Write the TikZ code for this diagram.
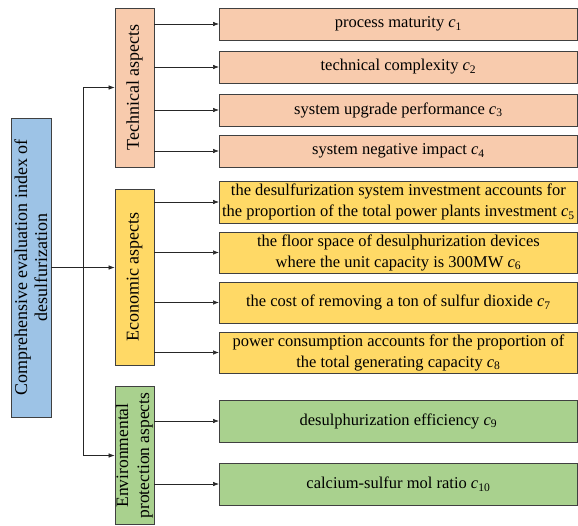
\documentclass[tikz,border=0pt]{standalone}
\usepackage{fontspec}
\setmainfont{Liberation Serif}
\usetikzlibrary{arrows.meta}
\definecolor{peach}{HTML}{F8CBAD}
\definecolor{gold}{HTML}{FFD966}
\definecolor{leaf}{HTML}{A9D18E}
\definecolor{sky}{HTML}{9DC3E6}
\newcommand\csub[1]{\textit{c}\textsubscript{#1}}
\begin{document}
\begin{tikzpicture}[x=1pt,y=-1pt,
  box/.style={draw=black!75,line width=0.8pt,inner sep=1pt,align=center,
    font=\fontsize{16.5}{21}\selectfont},
  rbox/.style={box,rotate=90,font=\fontsize{18}{20}\selectfont},
  item/.style={box,minimum width=358pt,anchor=west},
  arr/.style={-{Latex[length=6pt,width=4.5pt]},line width=0.6pt,black!85}]
\useasboundingbox (0,0) rectangle (578,525);
% main
\node[rbox,fill=sky,minimum width=299pt,minimum height=40pt] (main) at (31,267.5)
  {Comprehensive evaluation index of\\desulfurization};
% aspects
\node[rbox,fill=peach,minimum width=159pt,minimum height=39pt] (tech) at (134.5,87.5) {Technical aspects};
\node[rbox,fill=gold,minimum width=176pt,minimum height=39pt] (econ) at (134.5,277) {Economic aspects};
\node[rbox,fill=leaf,minimum width=138pt,minimum height=39pt,font=\fontsize{17.5}{21}\selectfont] (env) at (134.5,455.5) {Environmental\\protection aspects};
% items
\node[item,fill=peach,minimum height=32pt] (c1) at (219,24) {process maturity \csub{1}};
\node[item,fill=peach,minimum height=32pt] (c2) at (219,67) {technical complexity \csub{2}};
\node[item,fill=peach,minimum height=32pt] (c3) at (219,110) {system upgrade performance \csub{3}};
\node[item,fill=peach,minimum height=32pt] (c4) at (219,151) {system negative impact \csub{4}};
\node[item,fill=gold,minimum height=42pt] (c5) at (219,202) {the desulfurization system investment accounts for\\the proportion of the total power plants investment \csub{5}};
\node[item,fill=gold,minimum height=41pt] (c6) at (219,252.5) {the floor space of desulphurization devices\\where the unit capacity is 300MW \csub{6}};
\node[item,fill=gold,minimum height=41pt] (c7) at (219,302.5) {the cost of removing a ton of sulfur dioxide \csub{7}};
\node[item,fill=gold,minimum height=41pt] (c8) at (219,352.5) {power consumption accounts for the proportion of\\the total generating capacity \csub{8}};
\node[item,fill=leaf,minimum height=42pt] (c9) at (219,421) {desulphurization efficiency \csub{9}};
\node[item,fill=leaf,minimum height=42pt] (c10) at (219,484) {calcium-sulfur mol ratio \csub{10}};
% trunk
\coordinate (j) at (83,267.5);
\draw[line width=0.6pt,black!85] (j |- tech.north) -- (j |- env.north);
\draw[arr] (main.south) -- (main.south -| econ.north);
\draw[arr] (j |- tech.north) -- (tech.north);
\draw[arr] (j |- env.north) -- (env.north);
% branches
\foreach \i in {c1,c2,c3,c4} \draw[arr] (\i.west -| tech.south) -- (\i.west);
\foreach \i in {c5,c6,c7,c8} \draw[arr] (\i.west -| econ.south) -- (\i.west);
\foreach \i in {c9,c10} \draw[arr] (\i.west -| env.south) -- (\i.west);
\end{tikzpicture}
\end{document}
